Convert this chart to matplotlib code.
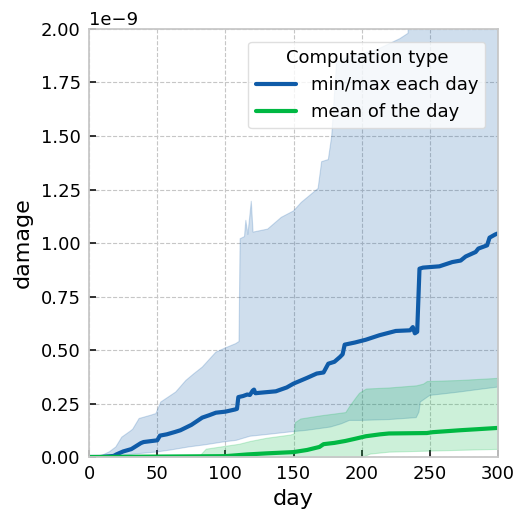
import matplotlib
matplotlib.use("Agg")
import matplotlib.pyplot as plt
import numpy as np

# ---- data (values in units of 1e-9) ----
blue_mean_day = [0, 8, 18, 20, 25, 31, 33, 38, 40, 50, 52, 57, 63, 67, 75, 83, 88, 93, 100, 107,
                 108.5, 109.5, 113, 116, 118, 120, 121, 122, 125, 137, 145, 150, 160, 167, 170, 172,
                 175.5, 180, 184, 186, 187.5, 195, 203, 213, 225, 235.5, 237.5, 239, 240.7, 242.4,
                 245, 257, 266.5, 272.6, 276.3, 283.6, 285.6, 292, 293.8, 298, 300]
blue_mean_val = [0, 0, 0.005, 0.012, 0.026, 0.037, 0.045, 0.065, 0.07, 0.078, 0.1, 0.106, 0.117, 0.125,
                 0.15, 0.184, 0.195, 0.207, 0.212, 0.222, 0.225, 0.28, 0.285, 0.292, 0.29, 0.31, 0.315,
                 0.298, 0.3, 0.307, 0.325, 0.343, 0.37, 0.39, 0.393, 0.395, 0.436, 0.445, 0.467, 0.48,
                 0.525, 0.535, 0.548, 0.569, 0.589, 0.592, 0.607, 0.578, 0.585, 0.88, 0.885, 0.891,
                 0.911, 0.918, 0.937, 0.958, 0.974, 0.989, 1.025, 1.04, 1.045]

blue_low_day = [0, 8, 20, 35, 49, 60, 73, 85, 98, 108, 118, 130, 147, 160, 177, 185, 191, 199, 220,
                240, 242, 243, 250, 260, 272, 285, 300]
blue_low_val = [0, 0, 0.005, 0.015, 0.023, 0.033, 0.047, 0.057, 0.07, 0.078, 0.097, 0.105, 0.117,
                0.125, 0.14, 0.155, 0.171, 0.171, 0.175, 0.184, 0.21, 0.257, 0.288, 0.295, 0.304,
                0.315, 0.327]

blue_high_day = [0, 7, 15, 19.6, 24, 30, 32, 36.7, 45, 49, 52.6, 58, 63.6, 71, 77, 83, 93, 100,
                 107.6, 110, 110.8, 114, 115, 116.5, 119, 120.3, 131, 141, 150, 155.7, 168, 170.6,
                 175.5, 178, 181.6, 190, 210, 228, 234, 236, 300]
blue_high_val = [0, 0, 0.025, 0.047, 0.093, 0.12, 0.13, 0.18, 0.195, 0.203, 0.257, 0.28, 0.304,
                 0.358, 0.39, 0.42, 0.49, 0.51, 0.53, 0.54, 1.02, 1.03, 1.106, 1.04, 1.195, 1.051,
                 1.065, 1.12, 1.15, 1.19, 1.255, 1.38, 1.39, 1.5, 1.846, 1.87, 1.9, 1.955, 1.98,
                 2.3, 2.6]

green_mean_day = [0, 100, 116, 130, 150, 160, 169, 172, 180, 188, 195, 203, 213.5, 220, 247.8,
                  252, 272, 285, 300]
green_mean_val = [0, 0.004, 0.012, 0.017, 0.023, 0.033, 0.047, 0.06, 0.066, 0.075, 0.085, 0.097,
                  0.106, 0.11, 0.112, 0.116, 0.125, 0.13, 0.136]

green_high_day = [0, 78, 80.7, 85.6, 110, 118, 130, 147.5, 150, 151, 155, 170, 188, 191, 195.6,
                  198, 203, 220, 240, 245, 247.8, 272, 300]
green_high_val = [0, 0, 0.005, 0.039, 0.062, 0.075, 0.09, 0.105, 0.11, 0.163, 0.18, 0.195, 0.21,
                  0.24, 0.28, 0.3, 0.32, 0.325, 0.335, 0.343, 0.355, 0.36, 0.37]

green_low_day = [0, 200, 206, 220, 250, 300]
green_low_val = [0, 0, 0.016, 0.025, 0.03, 0.038]

scale = 1e-9
x_ticks = [0, 50, 100, 150, 200, 250, 300]
y_ticks = [0, 0.25, 0.5, 0.75, 1.0, 1.25, 1.5, 1.75, 2.0]

blue = "#0f5ba8"
green = "#00b843"

fig = plt.figure(figsize=(5.15, 5.15), dpi=100)
ax = fig.add_axes([0.173, 0.1126, 0.794, 0.8311])

# common grid for bands
grid_d = np.union1d(blue_low_day, blue_high_day)
bl = np.interp(grid_d, blue_low_day, blue_low_val) * scale
bh = np.interp(grid_d, blue_high_day, blue_high_val) * scale
ax.fill_between(grid_d, bl, bh, color=blue, alpha=0.2, lw=0.8)

grid_g = np.union1d(green_low_day, green_high_day)
gl = np.interp(grid_g, green_low_day, green_low_val) * scale
gh = np.interp(grid_g, green_high_day, green_high_val) * scale
ax.fill_between(grid_g, gl, gh, color=green, alpha=0.2, lw=0.8)

ax.plot(blue_mean_day, np.array(blue_mean_val) * scale, color=blue, lw=3,
        label="min/max each day", solid_capstyle="round")
ax.plot(green_mean_day, np.array(green_mean_val) * scale, color=green, lw=3,
        label="mean of the day", solid_capstyle="round")

ax.set_xlim(0, 300)
ax.set_ylim(0, 2e-9)
ax.set_xticks(x_ticks)
ax.set_yticks(np.array(y_ticks) * scale)

ax.grid(True, ls="--", color="#c6c6c6", lw=0.8)
ax.set_axisbelow(True)
for s in ax.spines.values():
    s.set_color("#c8c8c8")
    s.set_linewidth(1.3)
ax.tick_params(direction="in", length=5, width=1.3, color="#222222",
               labelsize=13, pad=6)
ax.yaxis.get_offset_text().set_fontsize(13)

ax.set_xlabel("day", fontsize=16, labelpad=4)
ax.set_ylabel("damage", fontsize=16, labelpad=6)

leg = ax.legend(title="Computation type", loc="upper right", fontsize=13,
                title_fontsize=13, framealpha=0.8, edgecolor="#d8d8d8",
                handlelength=2.25, borderaxespad=0.7)
leg.get_frame().set_linewidth(1.0)

fig.savefig("out.png", dpi=100)
